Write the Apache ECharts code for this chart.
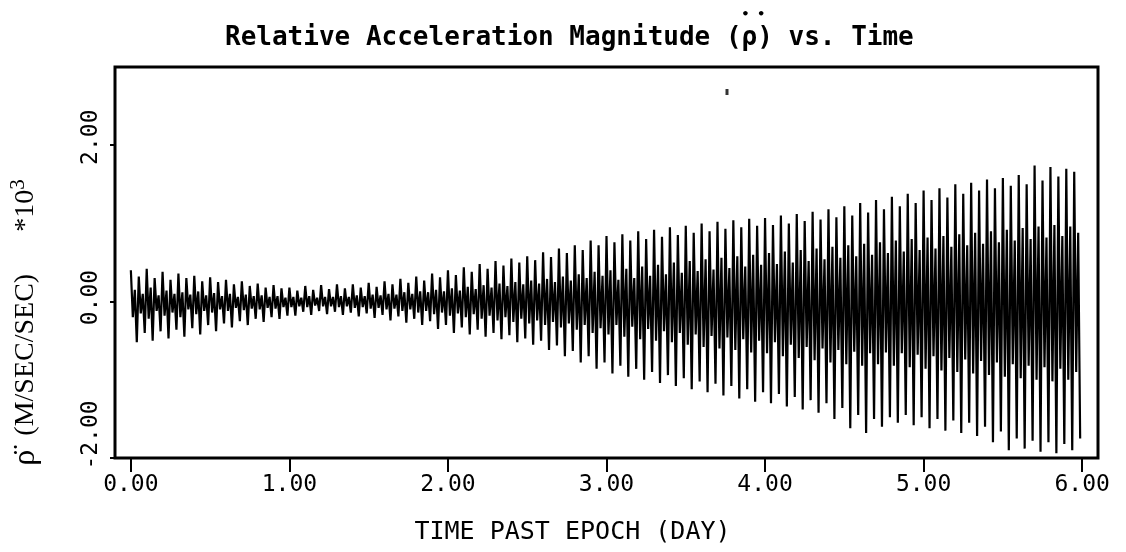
<!DOCTYPE html>
<html>
<head>
<meta charset="utf-8">
<script src="https://cdn.jsdelivr.net/npm/echarts@6/dist/echarts.min.js"></script>
<style>
html,body{margin:0;padding:0;background:#fff;}
#chart{width:1126px;height:552px;}
</style>
</head>
<body>
<div id="chart"></div>
<script>
// Cycle period (days) and per-cycle extremes, one row per day
const cycleStart = 0.0;
const cyclePeriod = 0.05;
const peaks = [
  0.40, 0.32, 0.42, 0.30, 0.38, 0.28, 0.36, 0.30, 0.33, 0.26, 0.31, 0.25, 0.28, 0.22, 0.26, 0.20, 0.23, 0.18, 0.21, 0.17,
  0.18, 0.14, 0.20, 0.15, 0.21, 0.16, 0.22, 0.17, 0.22, 0.18, 0.24, 0.19, 0.26, 0.22, 0.29, 0.24, 0.32, 0.27, 0.36, 0.31,
  0.40, 0.34, 0.44, 0.38, 0.48, 0.42, 0.52, 0.46, 0.55, 0.50, 0.58, 0.53, 0.63, 0.57, 0.68, 0.62, 0.72, 0.66, 0.78, 0.72,
  0.84, 0.76, 0.86, 0.78, 0.90, 0.80, 0.92, 0.83, 0.95, 0.85, 0.97, 0.88, 1.00, 0.90, 1.02, 0.93, 1.04, 0.95, 1.06, 0.97,
  1.07, 0.98, 1.10, 1.00, 1.12, 1.03, 1.15, 1.05, 1.18, 1.08, 1.22, 1.10, 1.26, 1.14, 1.30, 1.18, 1.34, 1.22, 1.38, 1.26,
  1.42, 1.30, 1.45, 1.33, 1.50, 1.38, 1.52, 1.42, 1.56, 1.45, 1.58, 1.48, 1.62, 1.50, 1.74, 1.55, 1.72, 1.60, 1.70, 1.66
];
const innerLows = [
  -0.20, -0.15, -0.22, -0.12, -0.18, -0.14, -0.20, -0.10, -0.16, -0.12, -0.14, -0.10, -0.12, -0.08, -0.11, -0.09, -0.10, -0.08, -0.09, -0.07,
  -0.07, -0.06, -0.07, -0.05, -0.06, -0.06, -0.07, -0.06, -0.08, -0.07, -0.09, -0.08, -0.10, -0.09, -0.12, -0.10, -0.14, -0.12, -0.16, -0.14,
  -0.18, -0.15, -0.20, -0.16, -0.22, -0.18, -0.24, -0.20, -0.26, -0.22, -0.28, -0.24, -0.30, -0.26, -0.33, -0.28, -0.36, -0.30, -0.40, -0.34,
  -0.42, -0.30, -0.45, -0.32, -0.48, -0.35, -0.50, -0.38, -0.52, -0.40, -0.55, -0.42, -0.58, -0.44, -0.60, -0.46, -0.62, -0.48, -0.65, -0.50,
  -0.66, -0.52, -0.70, -0.55, -0.72, -0.58, -0.75, -0.60, -0.78, -0.62, -0.80, -0.64, -0.82, -0.66, -0.80, -0.65, -0.82, -0.66, -0.84, -0.68,
  -0.86, -0.70, -0.88, -0.72, -0.90, -0.74, -0.92, -0.76, -0.94, -0.78, -0.96, -0.80, -0.98, -0.82, -1.00, -0.84, -1.02, -0.86, -1.00, -0.90
];
const innerHighs = [
  0.15, 0.10, 0.18, 0.08, 0.14, 0.10, 0.12, 0.09, 0.13, 0.08, 0.11, 0.07, 0.10, 0.06, 0.09, 0.07, 0.08, 0.06, 0.07, 0.05,
  0.06, 0.05, 0.07, 0.05, 0.06, 0.06, 0.07, 0.06, 0.08, 0.07, 0.09, 0.08, 0.10, 0.09, 0.12, 0.10, 0.13, 0.12, 0.15, 0.13,
  0.17, 0.14, 0.19, 0.16, 0.21, 0.18, 0.23, 0.20, 0.25, 0.22, 0.27, 0.23, 0.29, 0.25, 0.32, 0.27, 0.35, 0.30, 0.38, 0.33,
  0.40, 0.28, 0.42, 0.30, 0.45, 0.33, 0.47, 0.35, 0.50, 0.37, 0.52, 0.39, 0.54, 0.41, 0.56, 0.43, 0.58, 0.45, 0.60, 0.47,
  0.62, 0.48, 0.64, 0.50, 0.66, 0.52, 0.68, 0.54, 0.70, 0.56, 0.72, 0.58, 0.74, 0.60, 0.76, 0.62, 0.78, 0.64, 0.80, 0.66,
  0.82, 0.68, 0.84, 0.70, 0.86, 0.72, 0.88, 0.74, 0.90, 0.76, 0.92, 0.78, 0.94, 0.80, 0.96, 0.82, 0.98, 0.84, 0.96, 0.88
];
const troughs = [
  -0.52, -0.40, -0.50, -0.38, -0.47, -0.36, -0.45, -0.34, -0.42, -0.30, -0.38, -0.28, -0.33, -0.25, -0.30, -0.22, -0.26, -0.20, -0.22, -0.18,
  -0.18, -0.13, -0.17, -0.12, -0.16, -0.13, -0.17, -0.14, -0.19, -0.15, -0.21, -0.17, -0.24, -0.19, -0.27, -0.22, -0.30, -0.25, -0.35, -0.30,
  -0.40, -0.33, -0.42, -0.36, -0.45, -0.40, -0.48, -0.43, -0.52, -0.47, -0.55, -0.50, -0.62, -0.56, -0.70, -0.63, -0.78, -0.70, -0.86, -0.78,
  -0.92, -0.82, -0.96, -0.86, -1.00, -0.90, -1.04, -0.94, -1.08, -0.98, -1.12, -1.02, -1.16, -1.05, -1.20, -1.08, -1.24, -1.12, -1.28, -1.16,
  -1.30, -1.18, -1.34, -1.22, -1.38, -1.26, -1.42, -1.30, -1.50, -1.36, -1.62, -1.45, -1.68, -1.50, -1.60, -1.48, -1.55, -1.45, -1.58, -1.48,
  -1.62, -1.50, -1.65, -1.52, -1.68, -1.55, -1.72, -1.60, -1.80, -1.66, -1.90, -1.75, -1.88, -1.78, -1.92, -1.80, -1.94, -1.82, -1.90, -1.75
];
const strayPoints = [[3.76, 2.68]];
const xTickValues = [0, 1, 2, 3, 4, 5, 6];
const yTickValues = [-2, 0, 2];

// build the line: each cycle = peak, inner low, inner high, trough
const seriesData = [];
for (let i = 0; i < peaks.length; i++) {
  const t0 = cycleStart + i * cyclePeriod;
  const q = cyclePeriod / 4;
  seriesData.push([t0, peaks[i]]);
  seriesData.push([t0 + q, innerLows[i]]);
  seriesData.push([t0 + 2 * q, innerHighs[i]]);
  seriesData.push([t0 + 3 * q, troughs[i]]);
}

const chart = echarts.init(document.getElementById('chart'), null, {renderer: 'canvas'});
const mono = '"DejaVu Sans Mono", "Liberation Mono", monospace';
const serif = '"Liberation Serif", serif';
const titlePre = 'Relative Acceleration Magnitude (';
chart.setOption({
  animation: false,
  backgroundColor: '#fff',
  title: {
    text: '{sp|' + ' '.repeat(titlePre.length) + '}{dots|\u2022 \u2022}\n{main|Relative Acceleration Magnitude (\u03C1) vs. Time}',
    left: 220,
    top: 3,
    textStyle: {
      rich: {
        sp: {fontFamily: mono, fontWeight: 'bold', fontSize: 26, lineHeight: 14, color: '#000'},
        dots: {fontFamily: mono, fontWeight: 'bold', fontSize: 13, lineHeight: 14, color: '#000'},
        main: {fontFamily: mono, fontWeight: 'bold', fontSize: 26, lineHeight: 32, color: '#000'}
      }
    }
  },
  grid: {
    left: 115, right: 28, top: 67, bottom: 94,
    show: true, borderColor: '#000', borderWidth: 3, backgroundColor: '#fff'
  },
  xAxis: {
    type: 'value', min: -0.1, max: 6.1,
    name: 'TIME PAST EPOCH (DAY)',
    nameLocation: 'middle', nameGap: 62,
    nameTextStyle: {fontFamily: mono, fontSize: 25, color: '#000', padding: [0, 68, 0, 0]},
    axisLine: {show: false, onZero: false},
    axisTick: {show: true, customValues: xTickValues, inside: false, length: 14, lineStyle: {color: '#000', width: 2}},
    axisLabel: {customValues: xTickValues, formatter: v => v.toFixed(2), fontFamily: mono, fontSize: 23, color: '#000', margin: 16},
    splitLine: {show: false}
  },
  yAxis: {
    type: 'value', min: -2, max: 3,
    name: '{d|\u03C1\u0308}{n|  (M/SEC/SEC)      *10}{sup|3}',
    nameLocation: 'middle', nameGap: 72,
    nameTextStyle: {
      color: '#000', padding: [0, 120, 0, 0],
      rich: {
        d: {fontFamily: serif, fontSize: 32, color: '#000'},
        n: {fontFamily: serif, fontSize: 28, color: '#000'},
        sup: {fontFamily: serif, fontSize: 21, color: '#000', verticalAlign: 'top', padding: [0, 0, 14, 0]}
      }
    },
    axisLine: {show: false, onZero: false},
    axisTick: {show: true, customValues: yTickValues, inside: false, length: 5, lineStyle: {color: '#000', width: 2}},
    axisLabel: {
      customValues: yTickValues, rotate: 90, margin: 12,
      formatter: v => (v === -2 ? '{lo|' : v === 0 ? '{z|' : '{r|') + v.toFixed(2) + '}',
      rich: {
        r: {fontFamily: mono, fontSize: 23, color: '#000', padding: [0, 0, 0, 16]},
        z: {fontFamily: mono, fontSize: 23, color: '#000', padding: [0, 0, 0, 8]},
        lo: {fontFamily: mono, fontSize: 23, color: '#000', padding: [0, 0, 0, 46]}
      }
    },
    splitLine: {show: false}
  },
  series: [{
    type: 'line',
    data: seriesData,
    showSymbol: false,
    sampling: null,
    lineStyle: {color: '#000', width: 2.2},
    clip: true
  }, {
    type: 'scatter',
    data: strayPoints,
    symbol: 'rect',
    symbolSize: [3, 6],
    itemStyle: {color: '#000'}
  }]
});
</script>
</body>
</html>
